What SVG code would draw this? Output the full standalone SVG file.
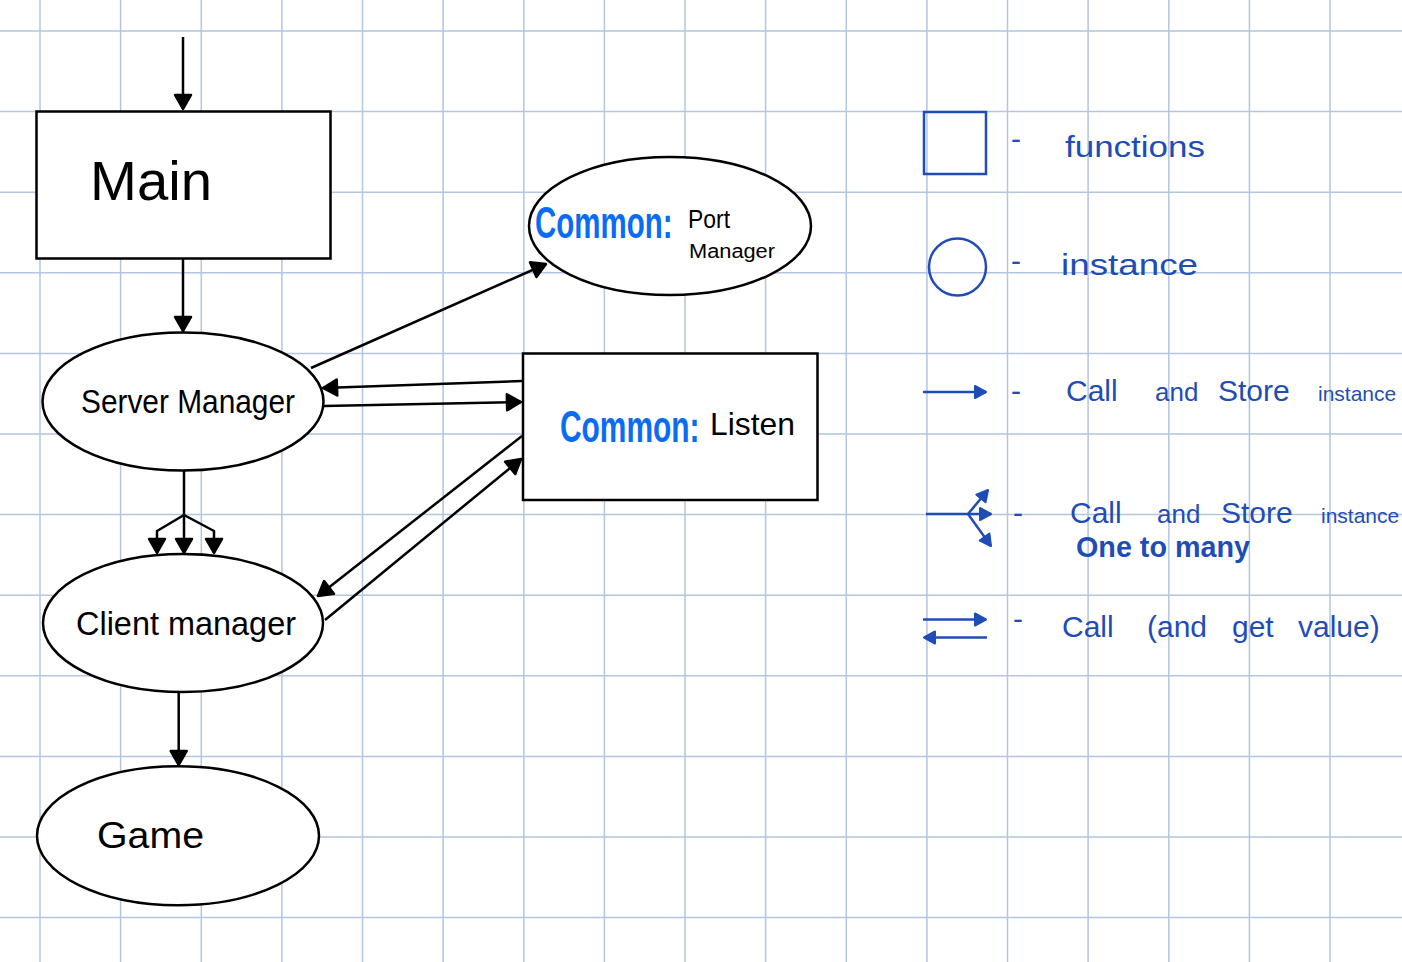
<svg xmlns="http://www.w3.org/2000/svg" width="1402" height="962" viewBox="0 0 1402 962">
<style>
.grid{stroke:#b3c5df;stroke-width:1.5;fill:none}
.shape{fill:#fff;stroke:#000;stroke-width:2.5}
.conn{fill:none;stroke:#000;stroke-width:2.5;stroke-linejoin:round}
.lg{fill:none;stroke:#1f4db5;stroke-width:2.5}
.hand{font-family:"Liberation Sans",Arial,sans-serif;fill:#000}
.blue{font-family:"Liberation Sans",Arial,sans-serif;fill:#0a6cf2;font-weight:bold;font-size:44px}
.ltxt{font-family:"Liberation Sans",Arial,sans-serif;fill:#1f4db5;font-size:30px}
</style>
<defs>
<marker id="ah" markerUnits="userSpaceOnUse" viewBox="-3 -11 20 22" markerWidth="20" markerHeight="22" refX="14" refY="0" orient="auto">
<path d="M0,-8 L14,0 L0,8 Z" fill="#000" stroke="#000" stroke-width="2.5" stroke-linejoin="round"/>
</marker>
<marker id="ahb" markerUnits="userSpaceOnUse" viewBox="-3 -9 16 18" markerWidth="16" markerHeight="18" refX="11" refY="0" orient="auto">
<path d="M0,-6 L11,0 L0,6 Z" fill="#1f4db5" stroke="#1f4db5" stroke-width="2" stroke-linejoin="round"/>
</marker>
</defs>
<rect width="1402" height="962" fill="#fff"/>
<g id="grid" class="grid">
<path d="M40,0V962M120.6,0V962M201.3,0V962M281.9,0V962M362.5,0V962M443.1,0V962M523.8,0V962M604.4,0V962M685,0V962M765.6,0V962M846.3,0V962M926.9,0V962M1007.5,0V962M1088.1,0V962M1168.8,0V962M1249.4,0V962M1330,0V962"/>
<path d="M0,31H1402M0,111.6H1402M0,192.2H1402M0,272.8H1402M0,353.4H1402M0,434H1402M0,514.6H1402M0,595.2H1402M0,675.8H1402M0,756.4H1402M0,837H1402M0,917.6H1402"/>
</g>
<g id="connectors">
<path class="conn" d="M183,37 L183,109" marker-end="url(#ah)"/>
<path class="conn" d="M183,259 L183,331" marker-end="url(#ah)"/>
<path class="conn" d="M311,368 L546,264" marker-end="url(#ah)"/>
<path class="conn" d="M522,381 L323,388" marker-end="url(#ah)"/>
<path class="conn" d="M324,406 L521,402" marker-end="url(#ah)"/>
<path class="conn" d="M522,436 L318,596" marker-end="url(#ah)"/>
<path class="conn" d="M325,620 L521,459" marker-end="url(#ah)"/>
<path class="conn" d="M184,471 L184,515"/>
<path class="conn" d="M184,515 L157,531 L157,553" marker-end="url(#ah)"/>
<path class="conn" d="M184,515 L184,553" marker-end="url(#ah)"/>
<path class="conn" d="M184,515 L214,531 L214,553" marker-end="url(#ah)"/>
<path class="conn" d="M178.7,692 L178.7,765" marker-end="url(#ah)"/>
</g>
<g id="main">
<rect class="shape" x="36.5" y="111.5" width="294" height="147"/>
<text class="hand" x="90" y="200" font-size="56" textLength="122" lengthAdjust="spacingAndGlyphs">Main</text>
</g>
<g id="server-manager">
<ellipse class="shape" cx="183" cy="401.5" rx="140.5" ry="69"/>
<text class="hand" x="81" y="413" font-size="34" textLength="214" lengthAdjust="spacingAndGlyphs">Server Manager</text>
</g>
<g id="client-manager">
<ellipse class="shape" cx="183" cy="623" rx="140" ry="69"/>
<text class="hand" x="76" y="635" font-size="34" textLength="220" lengthAdjust="spacingAndGlyphs">Client manager</text>
</g>
<g id="game">
<ellipse class="shape" cx="178" cy="835.7" rx="141" ry="69.5"/>
<text class="hand" x="97" y="848" font-size="36" textLength="107" lengthAdjust="spacingAndGlyphs">Game</text>
</g>
<g id="port-manager">
<ellipse class="shape" cx="670" cy="226" rx="141" ry="69"/>
<text class="blue" transform="translate(535 238) scale(0.67 1)">Common:</text>
<text class="hand" x="688" y="228" font-size="26" textLength="42" lengthAdjust="spacingAndGlyphs">Port</text>
<text class="hand" x="689" y="258" font-size="20" textLength="86" lengthAdjust="spacingAndGlyphs">Manager</text>
</g>
<g id="listen">
<rect class="shape" x="523" y="353.5" width="294.5" height="146.5"/>
<text class="blue" transform="translate(560 442) scale(0.68 1)">Common:</text>
<text class="hand" x="710" y="435" font-size="32" textLength="85" lengthAdjust="spacingAndGlyphs">Listen</text>
</g>
<g id="legend">
<rect class="lg" x="924" y="112" width="62" height="62"/>
<text class="ltxt" x="1016" y="149" text-anchor="middle">-</text>
<text class="ltxt" x="1065" y="157" font-size="32" textLength="140" lengthAdjust="spacingAndGlyphs">functions</text>
<circle class="lg" cx="957.5" cy="267" r="28.5"/>
<text class="ltxt" x="1016" y="271" text-anchor="middle">-</text>
<text class="ltxt" x="1061" y="275" font-size="32" textLength="137" lengthAdjust="spacingAndGlyphs">instance</text>
<path class="lg" d="M923,392 L986,392" marker-end="url(#ahb)"/>
<text class="ltxt" x="1016" y="401" text-anchor="middle">-</text>
<text class="ltxt" y="401"><tspan x="1066">Call</tspan><tspan x="1155" font-size="26">and</tspan><tspan x="1218">Store</tspan><tspan x="1318" font-size="21">instance</tspan></text>
<path class="lg" d="M926,514 L968,514"/>
<path class="lg" d="M968,514 L988,490" marker-end="url(#ahb)"/>
<path class="lg" d="M968,514 L991,514" marker-end="url(#ahb)"/>
<path class="lg" d="M968,514 L991,546" marker-end="url(#ahb)"/>
<text class="ltxt" x="1018" y="523" text-anchor="middle">-</text>
<text class="ltxt" y="523"><tspan x="1070">Call</tspan><tspan x="1157" font-size="26">and</tspan><tspan x="1221">Store</tspan><tspan x="1321" font-size="21">instance</tspan></text>
<text class="ltxt" x="1076" y="557" font-size="24" font-weight="bold" textLength="174" lengthAdjust="spacingAndGlyphs">One to many</text>
<path class="lg" d="M923,619.5 L986,619.5" marker-end="url(#ahb)"/>
<path class="lg" d="M987,637.5 L924,637.5" marker-end="url(#ahb)"/>
<text class="ltxt" x="1018" y="629" text-anchor="middle">-</text>
<text class="ltxt" y="637"><tspan x="1062">Call</tspan><tspan x="1147">(and</tspan><tspan x="1232">get</tspan><tspan x="1298">value)</tspan></text>
</g>
</svg>
